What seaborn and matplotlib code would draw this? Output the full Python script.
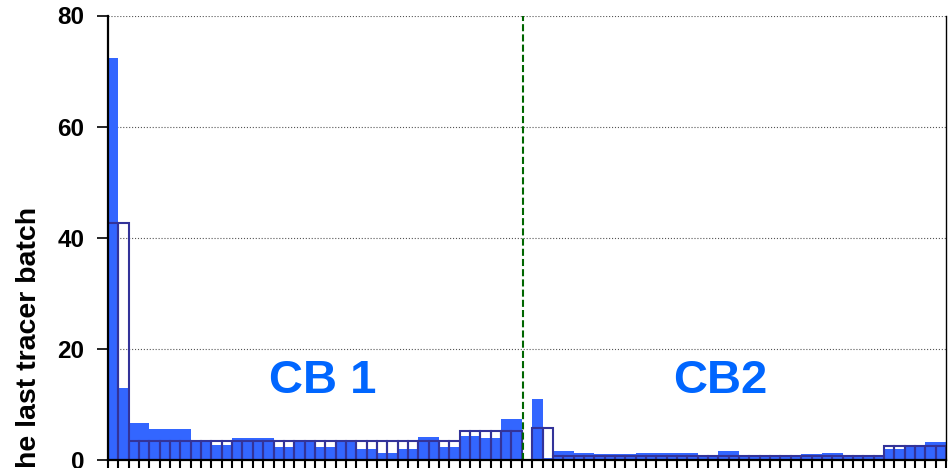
import numpy as np
import pandas as pd
import matplotlib
matplotlib.use('Agg')
import matplotlib.pyplot as plt
import seaborn as sns

# values (40 categories per belt, one empty slot between)
cb1_filled = [72.4, 13.0, 6.6, 6.6, 5.6, 5.6, 5.6, 5.6, 3.6, 3.6,
              2.7, 2.7, 3.9, 3.9, 3.9, 3.9, 2.3, 2.3, 3.6, 3.6,
              2.3, 2.3, 3.5, 3.5, 1.9, 1.9, 1.3, 1.3, 2.0, 2.0,
              4.2, 4.2, 2.3, 2.3, 4.3, 4.3, 4.0, 4.0, 7.3, 7.3]
cb1_hollow = [42.7, 42.7] + [3.4] * 32 + [5.2] * 6

cb2_filled = [11.0, 0.3, 1.6, 1.6, 1.2, 1.2, 1.0, 1.0, 1.0, 1.0,
              1.3, 1.3, 1.3, 1.3, 1.3, 1.3, 0.9, 0.9, 1.6, 1.6,
              0.9, 0.9, 0.9, 0.9, 0.9, 0.9, 1.0, 1.0, 1.3, 1.3,
              0.9, 0.9, 0.7, 0.7, 2.0, 2.0, 2.5, 2.5, 3.2, 3.2]
cb2_hollow = [5.8, 5.8] + [0.7] * 32 + [2.5] * 6

y_ticks = [0, 20, 40, 60, 80]
y_label = 'Percentage of particles from the last tracer batch'
belt_labels = ['CB 1', 'CB2']

# build long table: CB1, empty gap slot, CB2
filled = cb1_filled + [np.nan] + cb2_filled
hollow = cb1_hollow + [np.nan] + cb2_hollow
n = len(filled)
df = pd.DataFrame({'pos': np.arange(n), 'filled': filled, 'hollow': hollow})
order = list(range(n))

sns.set_style('white')
plt.rcParams['font.family'] = ['Liberation Sans', 'DejaVu Sans']

fig = plt.figure(figsize=(9.49, 4.68), dpi=100)
ax = fig.add_axes([108 / 949, 8 / 468, 838 / 949, 444.5 / 468])

sns.barplot(data=df, x='pos', y='filled', order=order, width=1,
            color='#3366ff', saturation=1, linewidth=0, ax=ax)
sns.barplot(data=df, x='pos', y='hollow', order=order, width=1,
            facecolor='none', edgecolor='#333399', linewidth=1.5, ax=ax)

ax.set_xlim(-0.5, n - 0.5)
ax.set_ylim(0, 80)
ax.set_yticks(y_ticks)
ax.set_yticklabels([str(t) for t in y_ticks], fontsize=17.5, fontweight='bold',
                   color='black')
ax.set_xticks(np.arange(-0.5, n, 1))
ax.set_xticklabels([])
ax.set_xlabel('')
ax.set_ylabel('')

ax.yaxis.grid(True, linestyle=':', color='#555555', linewidth=0.8)
ax.xaxis.grid(False)
ax.tick_params(axis='x', direction='out', length=10, width=1.5, color='black', bottom=True)
ax.tick_params(axis='y', direction='out', length=8, width=1.2, color='black', left=True, pad=9)

for side in ['left', 'bottom']:
    ax.spines[side].set_color('black')
    ax.spines[side].set_linewidth(1.6)
ax.spines['right'].set_color('black')
ax.spines['right'].set_linewidth(1.0)
ax.spines['top'].set_visible(False)

# separator between the two belts
ax.axvline(39.65, color='#006600', linestyle=(0, (3.4, 1.5)), linewidth=1.5)

ax.text(20.3, 14.2, belt_labels[0], color='#0066ff', fontsize=34,
        fontweight='bold', ha='center', va='center')
ax.text(58.7, 14.2, belt_labels[1], color='#0066ff', fontsize=34,
        fontweight='bold', ha='center', va='center')

fig.text(29 / 949, 1 - 207 / 468, y_label, rotation=90, va='top', ha='center',
         fontsize=20.5, fontweight='bold', color='black')

fig.savefig('out.png', dpi=100)
